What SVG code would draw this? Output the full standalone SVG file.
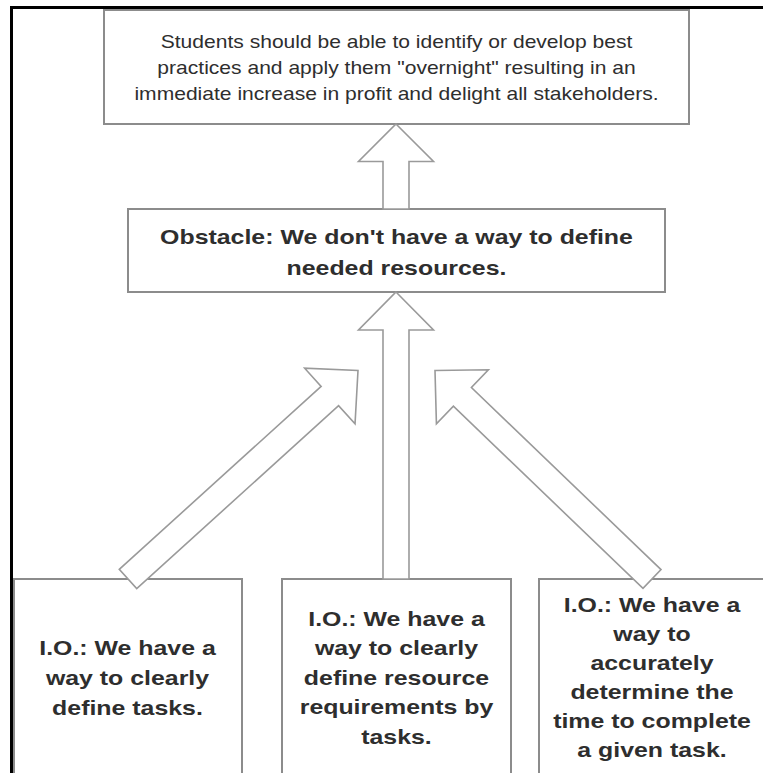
<svg xmlns="http://www.w3.org/2000/svg" width="763" height="773" viewBox="0 0 763 773">
<style>
.box{fill:#fff;stroke:#8c8c8c;stroke-width:2}
.arrow{fill:#fff;stroke:#9a9a9a;stroke-width:1.6;stroke-linejoin:miter}
.t{font-family:"Liberation Sans",Arial,sans-serif;text-anchor:middle;fill:#2e2e2e}
.reg{font-size:18px}
.bold{font-size:21px;font-weight:bold}
.frame{stroke:#000;stroke-width:3;fill:none}
</style>
<rect width="763" height="773" fill="#fff"/>
<g id="goal">
<rect class="box" x="104" y="10" width="585" height="114"/>
<text class="t reg" transform="matrix(1.17 0 0 1 396.5 0)"><tspan x="0" y="48">Students should be able to identify or develop best</tspan><tspan x="0" y="74">practices and apply them "overnight" resulting in an</tspan><tspan x="0" y="100">immediate increase in profit and delight all stakeholders.</tspan></text>
</g>
<g id="obstacle">
<rect class="box" x="128" y="209" width="537" height="83"/>
<text class="t bold" transform="matrix(1.186 0 0 1 396.5 0)"><tspan x="0" y="244">Obstacle: We don't have a way to define</tspan><tspan x="0" y="275">needed resources.</tspan></text>
</g>
<g id="io1">
<rect class="box" x="14" y="579" width="228" height="220"/>
<text class="t bold" transform="matrix(1.186 0 0 1 127.5 0)"><tspan x="0" y="655">I.O.: We have a</tspan><tspan x="0" y="685">way to clearly</tspan><tspan x="0" y="715">define tasks.</tspan></text>
</g>
<g id="io2">
<rect class="box" x="282" y="579" width="229" height="220"/>
<text class="t bold" transform="matrix(1.186 0 0 1 396.5 0)"><tspan x="0" y="626">I.O.: We have a</tspan><tspan x="0" y="655.5">way to clearly</tspan><tspan x="0" y="685">define resource</tspan><tspan x="0" y="714.5">requirements by</tspan><tspan x="0" y="744">tasks.</tspan></text>
</g>
<g id="io3">
<rect class="box" x="539" y="579" width="250" height="220"/>
<text class="t bold" transform="matrix(1.186 0 0 1 652 0)"><tspan x="0" y="612">I.O.: We have a</tspan><tspan x="0" y="641">way to</tspan><tspan x="0" y="670">accurately</tspan><tspan x="0" y="699">determine the</tspan><tspan x="0" y="728">time to complete</tspan><tspan x="0" y="757">a given task.</tspan></text>
</g>
<g id="connectors">
<polygon class="arrow" points="396,124 433.5,161.5 409,161.5 409,209 383,209 383,161.5 358.5,161.5"/>
<polygon class="arrow" points="396,292 433.5,330 409,330 409,579 383,579 383,330 358.5,330"/>
<polygon class="arrow" points="358,370.5 355.04,423.8 338.58,405.65 136.73,588.63 119.27,569.37 321.12,386.39 304.66,368.24"/>
<polygon class="arrow" points="435,370.5 488.38,369.79 471.41,387.46 661.01,569.63 642.99,588.37 453.39,406.2 436.42,423.87"/>
</g>
<path class="frame" d="M11.5,773 V7.5 H763"/>
</svg>
